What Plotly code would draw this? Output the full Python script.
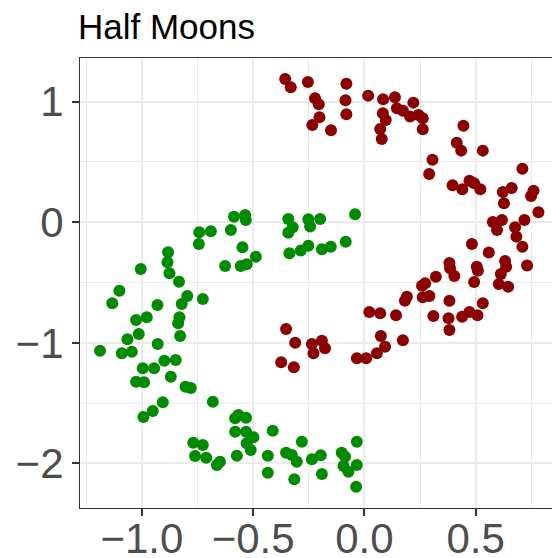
import plotly.graph_objects as go

red_x = [-0.356, -0.331, -0.254, -0.081, -0.222, -0.205, -0.202, -0.234, -0.150, -0.085,
         -0.081, 0.017, 0.084, 0.083, 0.096, 0.071, 0.078, 0.137, 0.146, 0.220,
         0.173, 0.205, 0.243, 0.262, 0.262, 0.445, 0.415, 0.435, 0.532, 0.306,
         0.291, 0.710, 0.396, 0.440, 0.472, 0.493, 0.521, 0.622, 0.662, 0.627,
         0.760, 0.749, 0.782, 0.577, 0.618, 0.596, 0.719, 0.677, 0.683, 0.710,
         0.483, 0.559, 0.382, 0.385, 0.404, 0.505, 0.510, 0.632, 0.637, 0.613,
         0.731, 0.321, 0.273, 0.259, 0.493, 0.604, 0.646, 0.191, 0.182, 0.262,
         0.292, 0.382, 0.532, 0.310, 0.378, 0.439, 0.472, 0.508, 0.382, 0.173,
         0.022, 0.071, 0.142, -0.352, -0.311, -0.236, -0.191, -0.177, -0.229, -0.374,
         -0.317, 0.074, 0.093, 0.056, -0.034, 0.008]
red_y = [1.188, 1.119, 1.163, 1.149, 1.028, 0.978, 0.871, 0.807, 0.763, 1.012,
         0.896, 1.050, 1.020, 0.904, 0.848, 0.774, 0.691, 1.036, 0.945, 0.992,
         0.925, 0.876, 0.890, 0.862, 0.771, 0.801, 0.660, 0.594, 0.594, 0.518,
         0.400, 0.444, 0.307, 0.274, 0.345, 0.323, 0.274, 0.251, 0.284, 0.158,
         0.262, 0.218, 0.083, 0.002, 0.019, -0.064, 0.019, -0.041, -0.119, -0.202,
         -0.180, -0.250, -0.337, -0.381, -0.445, -0.368, -0.401, -0.321, -0.368, -0.429,
         -0.358, -0.451, -0.506, -0.526, -0.495, -0.512, -0.534, -0.617, -0.650, -0.622,
         -0.611, -0.650, -0.672, -0.777, -0.796, -0.783, -0.744, -0.771, -0.893, -0.978,
         -0.744, -0.755, -0.771, -0.885, -0.998, -1.009, -0.982, -1.045, -1.086, -1.161,
         -1.202, -0.943, -1.032, -1.086, -1.128, -1.128]

green_x = [-0.742, -0.690, -0.744, -0.882, -0.885, -0.876, -0.833, -1.005, -1.101, -1.133,
           -0.930, -0.796, -0.821, -0.726, -1.026, -0.978, -0.831, -0.837, -1.065, -1.014,
           -0.828, -1.188, -1.090, -1.045, -0.929, -0.996, -0.945, -0.899, -0.848, -0.870,
           -1.026, -0.990, -0.804, -0.780, -0.681, -0.906, -0.951, -0.993, -0.581, -0.566,
           -0.532, -0.581, -0.532, -0.499, -0.529, -0.511, -0.412, -0.769, -0.726, -0.761,
           -0.711, -0.663, -0.649, -0.573, -0.434, -0.434, -0.352, -0.326, -0.304, -0.281,
           -0.236, -0.196, -0.191, -0.315, -0.102, -0.087, -0.094, -0.072, -0.034, -0.034,
           -0.037, -0.586, -0.536, -0.533, -0.600, -0.548, -0.488, -0.626, -0.556, -0.529,
           -0.342, -0.322, -0.342, -0.252, -0.244, -0.199, -0.042, -0.337, -0.286, -0.252,
           -0.191, -0.151, -0.084]
green_y = [-0.083, -0.075, -0.180, -0.249, -0.332, -0.423, -0.493, -0.387, -0.567, -0.672,
           -0.686, -0.611, -0.677, -0.636, -0.810, -0.788, -0.788, -0.837, -0.970, -0.926,
           -0.943, -1.065, -1.086, -1.073, -1.009, -1.211, -1.211, -1.148, -1.142, -1.280,
           -1.322, -1.327, -1.363, -1.374, -1.488, -1.493, -1.565, -1.614, -1.625, -1.598,
           -1.620, -1.736, -1.736, -1.783, -1.833, -1.888, -1.728, -1.828, -1.847, -1.938,
           -1.952, -2.012, -1.985, -1.935, -1.935, -2.076, -1.910, -1.930, -1.985, -1.819,
           -1.965, -1.932, -2.087, -2.131, -1.910, -1.944, -2.021, -2.068, -2.012, -1.819,
           -2.192, 0.046, 0.061, 0.019, -0.064, -0.207, -0.285, -0.362, -0.362, -0.348,
           0.027, -0.041, -0.086, 0.025, -0.036, 0.027, 0.066, -0.257, -0.235, -0.194,
           -0.224, -0.202, -0.161]

x_ticks = [-1.0, -0.5, 0.0, 0.5]
y_ticks = [-2, -1, 0, 1]

fig = go.Figure()
fig.add_trace(go.Scatter(x=red_x, y=red_y, mode="markers",
                         marker=dict(color="#8B0000", size=12, line=dict(width=0)),
                         showlegend=False, hoverinfo="skip"))
fig.add_trace(go.Scatter(x=green_x, y=green_y, mode="markers",
                         marker=dict(color="#008B00", size=12, line=dict(width=0)),
                         showlegend=False, hoverinfo="skip"))

axis_common = dict(
    showgrid=True, gridcolor="#EBEBEB", gridwidth=2,
    zeroline=False, automargin=False,
    showline=True, linecolor="#333333", linewidth=1.2,
    ticks="outside", ticklen=7, tickwidth=1.5, tickcolor="#333333",
    tickfont=dict(family="Liberation Sans, Arial, sans-serif", size=42, color="#4D4D4D"),
)

fig.update_layout(
    width=552, height=558,
    margin=dict(l=80, r=0, t=58, b=50),
    paper_bgcolor="white", plot_bgcolor="white",
    title=dict(text="Half Moons", x=78 / 552, xanchor="left", xref="container",
               y=1 - 27 / 558, yanchor="middle", yref="container",
               font=dict(family="Liberation Sans, Arial, sans-serif", size=35, color="black")),
    xaxis=dict(range=[-1.278, 0.843], tickvals=x_ticks, tickformat=".1f",
               mirror=True, ticklabelstandoff=-14,
               minor=dict(tickvals=[-1.25, -0.75, -0.25, 0.25, 0.75], showgrid=True,
                          gridcolor="#EBEBEB", gridwidth=1, ticks=""),
               **axis_common),
    yaxis=dict(range=[-2.369, 1.362], tickvals=y_ticks,
               minor=dict(tickvals=[-1.5, -0.5, 0.5], showgrid=True,
                          gridcolor="#EBEBEB", gridwidth=1, ticks=""),
               **axis_common),
)

fig.write_html("out.html", config={"displayModeBar": False},
               post_script="document.body.style.margin='0px';document.body.style.overflow='hidden';")
